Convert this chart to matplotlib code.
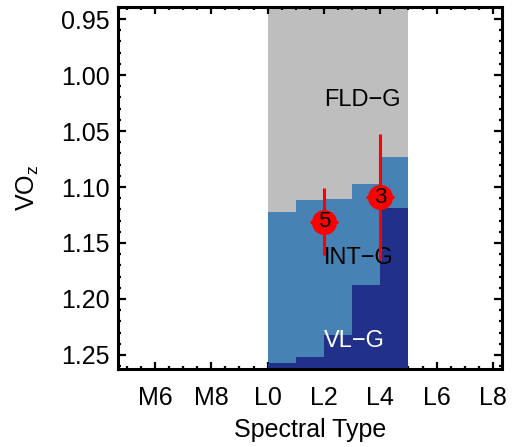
import numpy as np
import matplotlib
matplotlib.use("Agg")
import matplotlib.pyplot as plt
from matplotlib.ticker import MultipleLocator, FixedLocator

plt.rcParams['font.family'] = ['Liberation Sans', 'DejaVu Sans']
plt.rcParams['mathtext.fontset'] = 'custom'
plt.rcParams['mathtext.rm'] = 'Liberation Sans'

# gravity class boundaries per spectral subtype bin (L0..L5)
bin_edges = [10, 11, 12, 13, 14, 15]
fld_int_edge = [1.122, 1.112, 1.111, 1.097, 1.073]   # FLD-G / INT-G
int_vl_edge = [1.257, 1.252, 1.232, 1.1875, 1.1185]  # INT-G / VL-G

# measured objects
spt = [12, 14]
voz = [1.131, 1.109]
voz_err = [0.030, 0.056]
n_obj = ['5', '3']

tick_pos = [6, 8, 10, 12, 14, 16, 18]
tick_lab = ['M6', 'M8', 'L0', 'L2', 'L4', 'L6', 'L8']

ylo, yhi = 0.9393, 1.2625

fig = plt.figure(figsize=(5.16, 4.47), dpi=100)
ax = fig.add_axes([0.2287, 0.1745, 0.7436, 0.8098])

ax.axvspan(bin_edges[0], bin_edges[-1], color='#bebebe', lw=0, zorder=0)
ax.stairs(fld_int_edge, bin_edges, baseline=yhi, fill=True, color='#4682b4', lw=0, zorder=1)
ax.stairs(int_vl_edge, bin_edges, baseline=yhi, fill=True, color='#213089', lw=0, zorder=2)

ax.text(12, 1.0223, 'FLD\u2212G', fontsize=17, va='center', ha='left', zorder=3)
ax.text(12, 1.1634, 'INT\u2212G', fontsize=17, va='center', ha='left', zorder=3)
ax.text(12, 1.2375, 'VL\u2212G', fontsize=17, va='center', ha='left', color='white', zorder=3)

ax.errorbar(spt, voz, yerr=voz_err, xerr=0.5, fmt='o', color='red', ms=17,
            elinewidth=2.2, capsize=0, zorder=4)
for x, y, n in zip(spt, voz, n_obj):
    ax.text(x, y, n, fontsize=16, ha='center', va='center', zorder=5)

ax.set_xlim(4.69, 18.31)
ax.set_ylim(yhi, ylo)

ax.xaxis.set_major_locator(FixedLocator(tick_pos))
ax.set_xticklabels(tick_lab)
ax.xaxis.set_minor_locator(MultipleLocator(0.5))
ax.yaxis.set_major_locator(MultipleLocator(0.05))
ax.yaxis.set_minor_locator(MultipleLocator(0.01))
ax.yaxis.set_major_formatter(matplotlib.ticker.FormatStrFormatter('%.2f'))

ax.tick_params(which='both', direction='in', top=True, right=True, width=1.6, labelsize=18)
ax.tick_params(which='major', length=5)
ax.tick_params(which='minor', length=2.5)
ax.tick_params(axis='y', which='major', length=5.5)
ax.tick_params(axis='x', pad=12)
ax.tick_params(axis='y', pad=6)
for s in ax.spines.values():
    s.set_linewidth(2.2)
    s.set_zorder(6)

ax.set_xlabel('Spectral Type', fontsize=18, labelpad=6)
ax.set_ylabel('VO$\\mathregular{_z}$', fontsize=18, labelpad=14)

fig.savefig('out.png', dpi=100)
